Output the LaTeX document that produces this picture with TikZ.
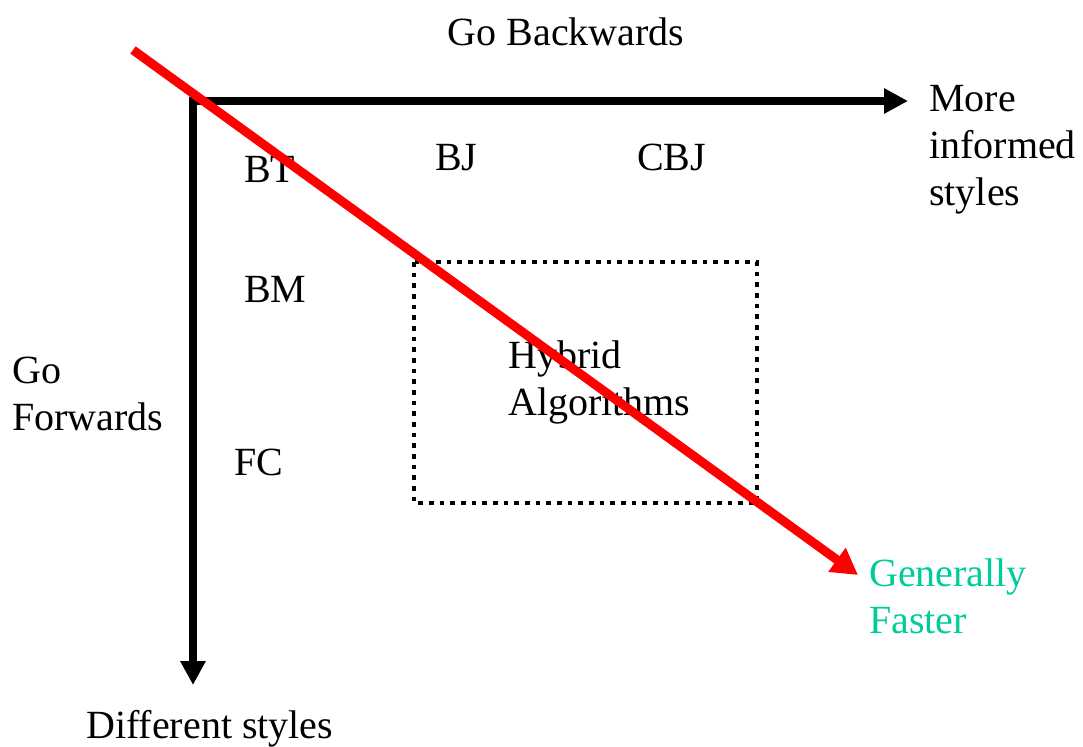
\documentclass[tikz,border=0pt]{standalone}
\usepackage{fontspec}
\setmainfont{Liberation Serif}
\usetikzlibrary{arrows.meta}
\definecolor{fastgreen}{RGB}{0,204,153}
\begin{document}
\begin{tikzpicture}[x=0.75pt,y=-0.75pt,
  lbl/.style={anchor=base west,inner sep=0pt,font=\fontsize{30}{35.25}\selectfont},
  mlbl/.style={lbl,align=left},
  axis/.style={line width=6pt,-{Triangle[length=18pt,width=18pt]}},
  fastline/.style={draw=red,line width=6.75pt,-{Triangle[length=19.5pt,width=21pt]}},
  hybridbox/.style={draw,line width=3.6pt,dash pattern=on 3.6pt off 4.4pt}]
\useasboundingbox (0,0) rectangle (1083,747);
% axes
\coordinate (origin) at (193,101);
\coordinate (xcorner) at (189,101);
\coordinate (ycorner) at (193,97);
\coordinate (xend) at (908,101);
\coordinate (yend) at (193,685);
\draw[axis] (xcorner) -- (xend);
\draw[axis] (ycorner) -- (yend);
% axis labels
\node[lbl,anchor=base] (back) at (566,45) {Go Backwards};
\node[mlbl] (informed) at (929,205) {More\\informed\\styles};
\node[mlbl] (fwd) at (12,430) {Go\\Forwards};
\node[lbl] (diff) at (86,738) {Different styles};
% algorithms
\node[lbl] (bt) at (244,182) {BT};
\node[lbl] (bj) at (435,170) {BJ};
\node[lbl] (cbj) at (637,170) {CBJ};
\node[lbl] (bm) at (244,302) {BM};
\node[lbl] (fc) at (234,475) {FC};
% hybrid region
\draw[hybridbox] (414,262) rectangle (757,503);
\node[mlbl] (hybrid) at (508,415) {Hybrid\\Algorithms};
% speed trend
\coordinate (fstart) at (133,50);
\coordinate (fend) at (858,575);
\draw[fastline] (fstart) -- (fend);
\node[mlbl,text=fastgreen] (faster) at (869,633) {Generally\\Faster};
\end{tikzpicture}
\end{document}
